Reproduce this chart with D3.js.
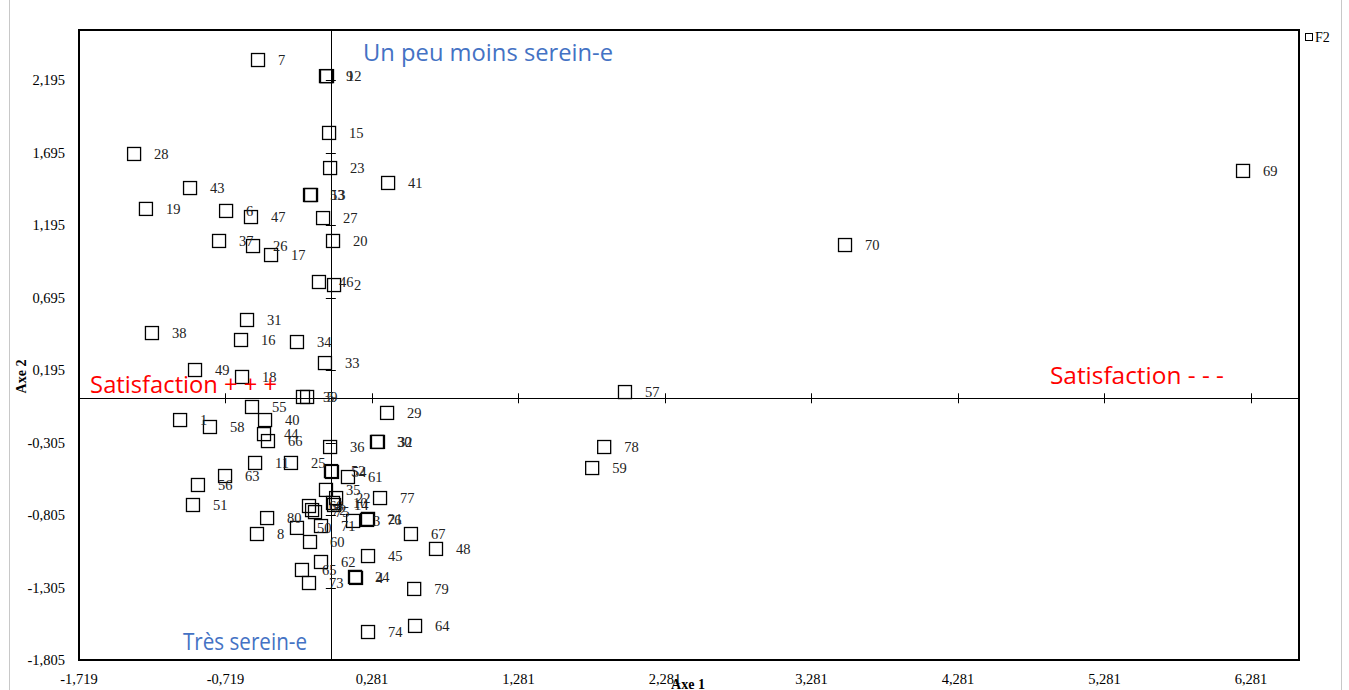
<!DOCTYPE html>
<html>
<head>
<meta charset="utf-8">
<script src="https://cdn.jsdelivr.net/npm/d3@7"></script>
<style>
  body { margin: 0; background: #fff; }
  svg text { font-family: "Liberation Serif", "Times New Roman", serif; }
</style>
</head>
<body>
<svg id="chart" width="1349" height="690"></svg>
<script>
// observations (Axe 1, Axe 2)
var labels = ["1","2","3","4","5","6","7","8","9","10","11","12","13","14","15","16","17","18","19","20",
  "21","22","23","24","25","26","27","28","29","30","31","32","33","34","35","36","37","38","39","40",
  "41","43","44","45","46","47","48","49","50","51","52","53","54","55","56","57","58","59","60","61",
  "62","63","64","65","66","67","68","69","70","71","72","73","74","75","76","77","78","79","80"];
var axe1 = [-1.029,0.022,0.152,0.172,-0.162,-0.715,-0.497,-0.504,-0.033,0.015,-0.517,-0.026,-0.135,0.022,-0.012,-0.613,-0.408,-0.606,-1.262,0.015,
  0.254,0.036,-0.005,0.165,-0.272,-0.531,-0.053,-1.343,0.384,0.315,-0.572,0.322,-0.040,-0.231,-0.033,-0.005,-0.763,-1.221,-0.190,-0.449,
  0.391,-0.961,-0.456,0.254,-0.081,-0.545,0.718,-0.927,-0.231,-0.941,0.001,-0.142,0.008,-0.538,-0.907,2.008,-0.825,1.784,-0.142,0.117,
  -0.067,-0.722,0.575,-0.197,-0.429,0.547,-0.149,6.227,3.510,-0.067,-0.128,-0.149,0.254,-0.108,0.247,0.336,1.866,0.569,-0.435];
var axe2 = [-0.150,0.781,-0.846,-1.239,0.009,1.292,2.333,-0.936,2.222,-0.722,-0.446,2.222,1.402,-0.736,1.830,0.402,0.988,0.147,1.306,1.085,
  -0.832,-0.688,1.588,-1.232,-0.446,1.050,1.243,1.685,-0.101,-0.301,0.540,-0.301,0.243,0.388,-0.632,-0.336,1.085,0.450,0.009,-0.150,
  1.485,1.450,-0.247,-1.088,0.802,1.250,-1.039,0.195,-0.894,-0.736,-0.502,1.402,-0.508,-0.060,-0.598,0.043,-0.198,-0.481,-0.991,-0.543,
  -1.129,-0.536,-1.570,-1.184,-0.295,-0.936,-0.743,1.568,1.057,-0.881,-0.771,-1.274,-1.612,-0.785,-0.839,-0.688,-0.336,-1.315,-0.826];

var xTicks = [-1.719,-0.719,0.281,1.281,2.281,3.281,4.281,5.281,6.281];
var yTicks = [2.195,1.695,1.195,0.695,0.195,-0.305,-0.805,-1.305,-1.805];

var annotations = [
  {text: "Un peu moins serein-e", x: 0.22, y: 2.381, color: "#4472c4", len: 250},
  {text: "Très serein-e", x: -1.009, y: -1.681, color: "#4472c4", len: 124},
  {text: "Satisfaction + + +", x: -1.643, y: 0.092, color: "#ff0000", len: 187},
  {text: "Satisfaction - - -", x: 4.909, y: 0.154, color: "#ff0000", len: 174}
];

var data = labels.map(function (d, i) { return {label: d, x: axe1[i], y: axe2[i]}; });

var mLeft = 79, mRight = 1299, mTop = 30, mBottom = 660;
var x = d3.scaleLinear().domain([-1.719, 6.609]).range([mLeft, mRight]);
var y = d3.scaleLinear().domain([-1.805, 2.540]).range([mBottom, mTop]);
var fmt = function (v) { return d3.format(".3f")(v).replace(".", ",").replace("\u2212", "-"); };

var svg = d3.select("#chart");

// page borders
svg.append("line").attr("x1", 9.5).attr("x2", 9.5).attr("y1", 0).attr("y2", 690)
  .attr("stroke", "#c8c8c8");
svg.append("line").attr("x1", 1341.5).attr("x2", 1341.5).attr("y1", 0).attr("y2", 690)
  .attr("stroke", "#c8c8c8");

// frame
svg.append("rect").attr("x", mLeft).attr("y", mTop)
  .attr("width", mRight - mLeft).attr("height", mBottom - mTop)
  .attr("fill", "none").attr("stroke", "#000").attr("stroke-width", 2);

// tick labels
svg.append("g").selectAll("text").data(yTicks).enter().append("text")
  .attr("x", 65).attr("y", function (d) { return y(d); })
  .attr("dy", "0.35em").attr("text-anchor", "end")
  .attr("font-size", 14.5).text(fmt);
svg.append("g").selectAll("text").data(xTicks).enter().append("text")
  .attr("x", function (d) { return x(d); }).attr("y", 684)
  .attr("text-anchor", "middle").attr("font-size", 14.5).text(fmt);

// axis lines through origin, with cross ticks
var axes = svg.append("g").attr("stroke", "#000").attr("stroke-width", 1);
axes.append("line").attr("x1", mLeft).attr("x2", mRight)
  .attr("y1", Math.round(y(0)) + 0.5).attr("y2", Math.round(y(0)) + 0.5);
axes.append("line").attr("y1", mTop).attr("y2", mBottom)
  .attr("x1", Math.round(x(0)) + 0.5).attr("x2", Math.round(x(0)) + 0.5);
axes.selectAll(".xt").data(xTicks.slice(1)).enter().append("line")
  .attr("x1", function (d) { return Math.round(x(d)) + 0.5; })
  .attr("x2", function (d) { return Math.round(x(d)) + 0.5; })
  .attr("y1", y(0) - 5).attr("y2", y(0) + 5);
axes.selectAll(".yt").data(yTicks.slice(0, -1)).enter().append("line")
  .attr("y1", function (d) { return Math.round(y(d)) + 0.5; })
  .attr("y2", function (d) { return Math.round(y(d)) + 0.5; })
  .attr("x1", x(0) - 5).attr("x2", x(0) + 5);

// axis titles
svg.append("text").attr("transform", "translate(26," + y(0.15) + ") rotate(-90)")
  .attr("text-anchor", "middle").attr("font-size", 14).attr("font-weight", "bold").text("Axe 2");
svg.append("text").attr("x", 688).attr("y", 689)
  .attr("text-anchor", "middle").attr("font-size", 14).attr("font-weight", "bold").text("Axe 1");

// points and labels
var pts = svg.append("g");
pts.selectAll("rect").data(data).enter().append("rect")
  .attr("x", function (d) { return x(d.x) - 6.5; })
  .attr("y", function (d) { return y(d.y) - 6.5; })
  .attr("width", 13).attr("height", 13)
  .attr("fill", "none").attr("stroke", "#000").attr("stroke-width", 1.3);
pts.selectAll("text").data(data).enter().append("text")
  .attr("x", function (d) { return x(d.x) + 20; })
  .attr("y", function (d) { return y(d.y); })
  .attr("dy", "0.35em").attr("font-size", 14.5).attr("fill", "#222")
  .text(function (d) { return d.label; });

// annotations
svg.append("g").selectAll("text").data(annotations).enter().append("text")
  .attr("x", function (d) { return x(d.x); })
  .attr("y", function (d) { return y(d.y); })
  .attr("dy", "0.35em")
  .attr("textLength", function (d) { return d.len; })
  .attr("lengthAdjust", "spacingAndGlyphs")
  .style("font-family", "'Open Sans', sans-serif").attr("font-size", 23)
  .attr("fill", function (d) { return d.color; })
  .text(function (d) { return d.text; });

// legend
svg.append("rect").attr("x", 1305.5).attr("y", 33.5).attr("width", 7).attr("height", 7)
  .attr("fill", "none").attr("stroke", "#000");
svg.append("text").attr("x", 1315).attr("y", 37).attr("dy", "0.35em")
  .attr("font-size", 14).text("F2");
</script>
</body>
</html>
